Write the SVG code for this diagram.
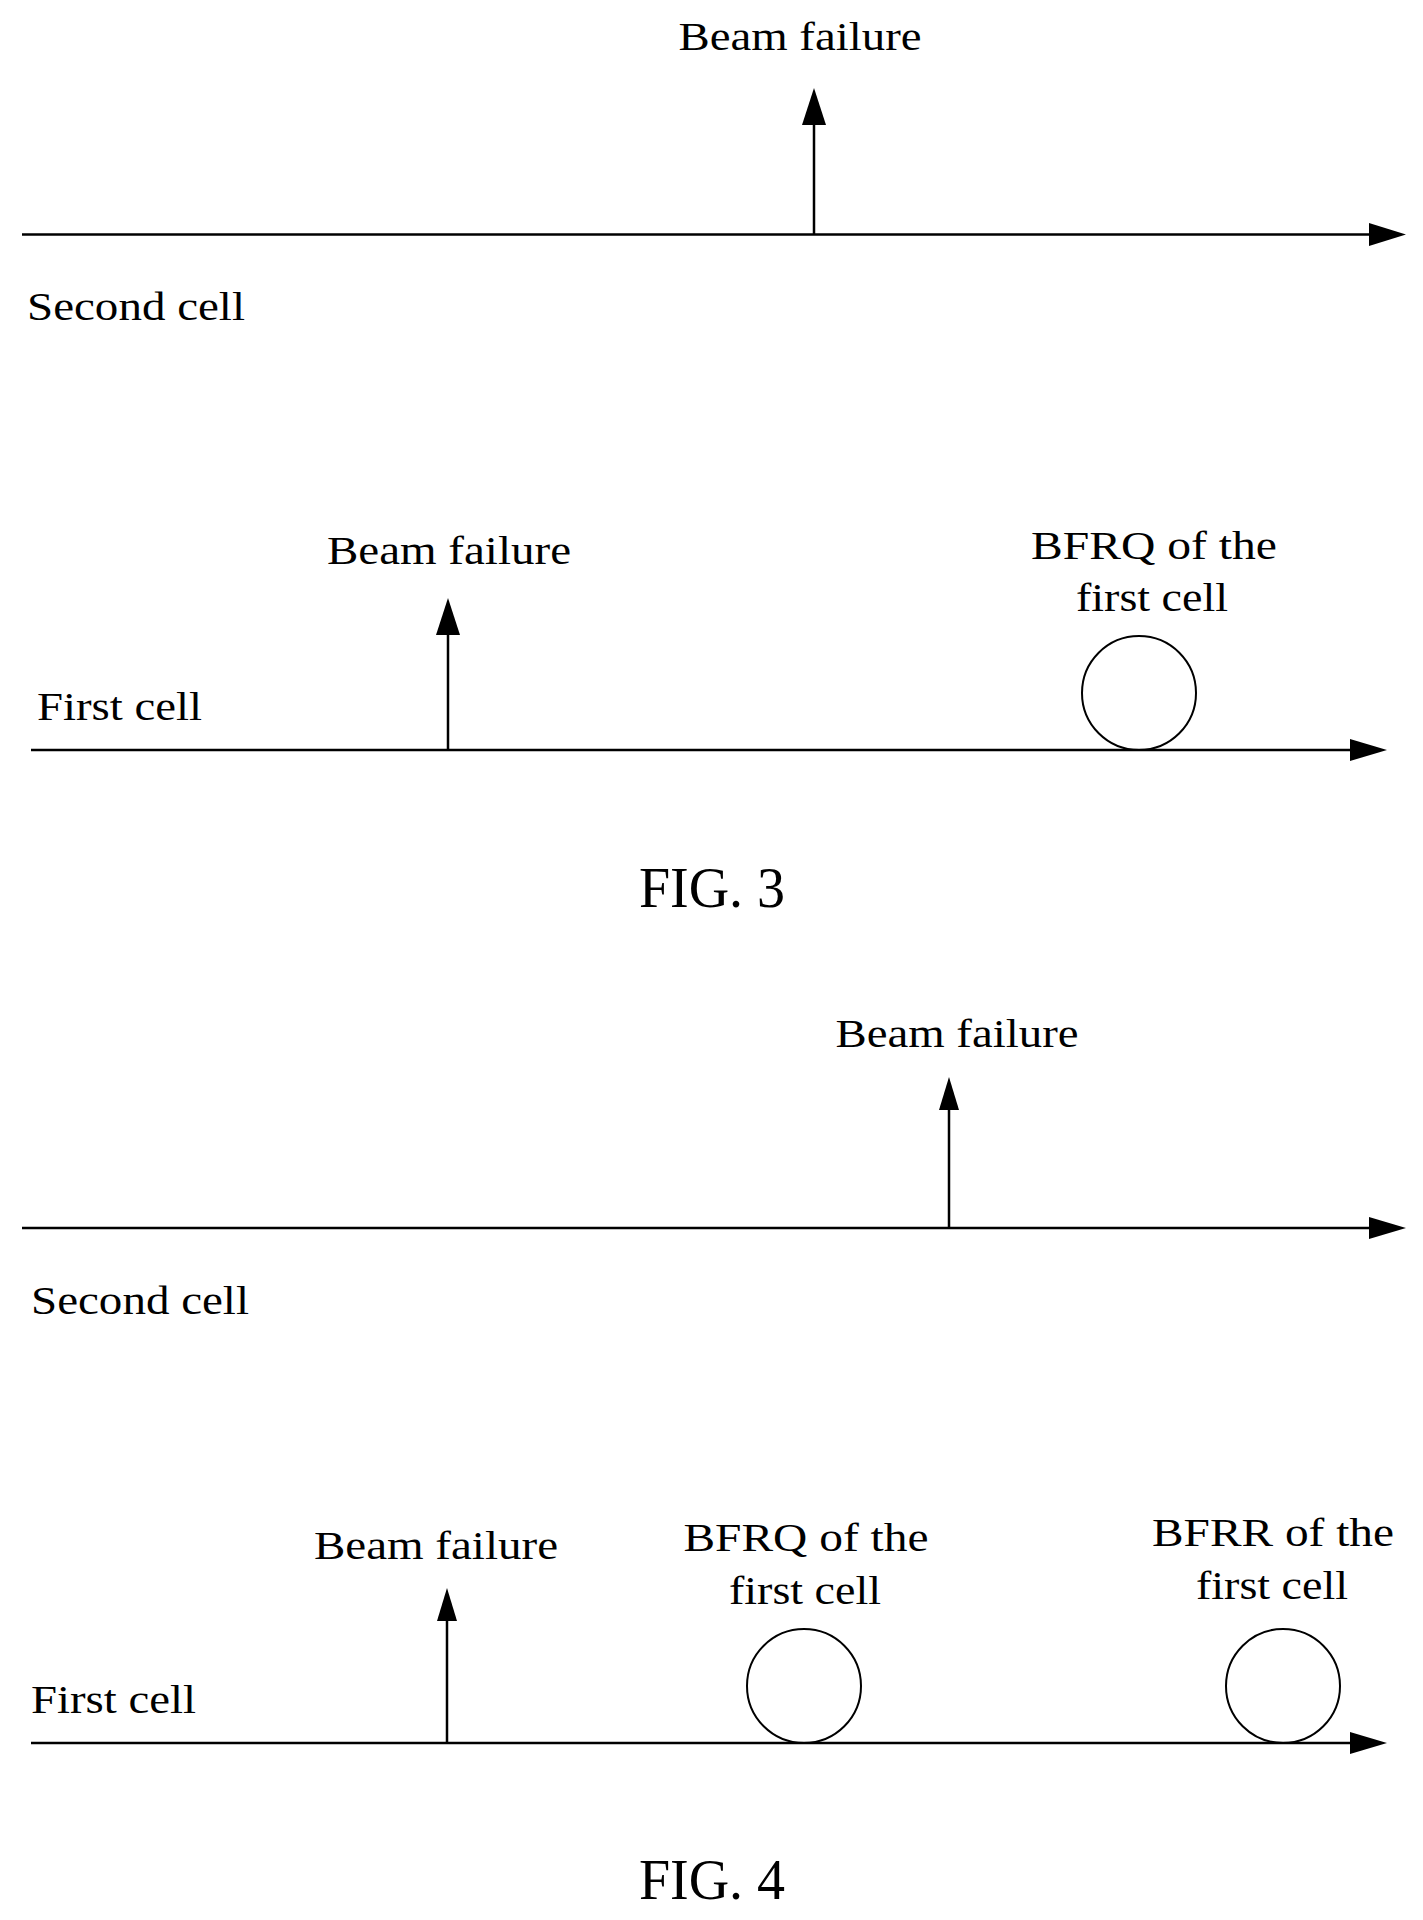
<svg xmlns="http://www.w3.org/2000/svg" width="1423" height="1920" viewBox="0 0 1423 1920">
<style>
text{font-family:"Liberation Serif","Times New Roman",serif;font-size:41px;fill:#000}
.c{text-anchor:middle}
.ln{stroke:#000;stroke-width:2.5;fill:none}
.ah{fill:#000}
.circ{stroke:#000;stroke-width:2;fill:none}
</style>
<rect width="1423" height="1920" fill="#fff"/>
<g id="connectors">
<line class="ln" x1="22" y1="234.5" x2="1372" y2="234.5"/>
<polygon class="ah" points="1406,234.5 1369,223 1369,246"/>
<line class="ln" x1="814" y1="234.5" x2="814" y2="120"/>
<polygon class="ah" points="814,88 802,125 826,125"/>
<line class="ln" x1="31" y1="750" x2="1352" y2="750"/>
<polygon class="ah" points="1387,750 1350,739 1350,761"/>
<line class="ln" x1="448" y1="750" x2="448" y2="630"/>
<polygon class="ah" points="448,598 436,635 460,635"/>
<line class="ln" x1="22" y1="1228" x2="1372" y2="1228"/>
<polygon class="ah" points="1406,1228 1369,1217 1369,1239"/>
<line class="ln" x1="949" y1="1228" x2="949" y2="1105"/>
<polygon class="ah" points="949,1077 939,1110 959,1110"/>
<line class="ln" x1="31" y1="1743" x2="1352" y2="1743"/>
<polygon class="ah" points="1387,1743 1350,1732 1350,1754"/>
<line class="ln" x1="447" y1="1743" x2="447" y2="1615"/>
<polygon class="ah" points="447,1588 437,1621 457,1621"/>
</g>
<g id="fig3-second-label"><text x="27" y="320" textLength="218" lengthAdjust="spacingAndGlyphs">Second cell</text></g>
<g id="fig3-second-bf"><text class="c" x="800" y="50" textLength="243" lengthAdjust="spacingAndGlyphs">Beam failure</text></g>
<g id="fig3-first-label"><text x="37" y="720" textLength="165" lengthAdjust="spacingAndGlyphs">First cell</text></g>
<g id="fig3-first-bf"><text class="c" x="449" y="564" textLength="244" lengthAdjust="spacingAndGlyphs">Beam failure</text></g>
<g id="fig3-bfrq">
<ellipse class="circ" cx="1139" cy="693" rx="57" ry="57"/>
<text class="c" x="1154" y="559" textLength="246" lengthAdjust="spacingAndGlyphs">BFRQ of the</text>
<text class="c" x="1152" y="611" textLength="152" lengthAdjust="spacingAndGlyphs">first cell</text>
</g>
<g id="fig3-caption"><text class="c" x="712" y="907" style="font-size:56px">FIG. 3</text></g>
<g id="fig4-second-label"><text x="31" y="1314" textLength="218" lengthAdjust="spacingAndGlyphs">Second cell</text></g>
<g id="fig4-second-bf"><text class="c" x="957" y="1047" textLength="243" lengthAdjust="spacingAndGlyphs">Beam failure</text></g>
<g id="fig4-first-label"><text x="31" y="1713" textLength="165" lengthAdjust="spacingAndGlyphs">First cell</text></g>
<g id="fig4-first-bf"><text class="c" x="436" y="1559" textLength="244" lengthAdjust="spacingAndGlyphs">Beam failure</text></g>
<g id="fig4-bfrq">
<ellipse class="circ" cx="804" cy="1686" rx="57" ry="57"/>
<text class="c" x="806" y="1551" textLength="245" lengthAdjust="spacingAndGlyphs">BFRQ of the</text>
<text class="c" x="805" y="1604" textLength="152" lengthAdjust="spacingAndGlyphs">first cell</text>
</g>
<g id="fig4-bfrr">
<ellipse class="circ" cx="1283" cy="1686" rx="57" ry="57"/>
<text class="c" x="1273" y="1546" textLength="242" lengthAdjust="spacingAndGlyphs">BFRR of the</text>
<text class="c" x="1272" y="1599" textLength="152" lengthAdjust="spacingAndGlyphs">first cell</text>
</g>
<g id="fig4-caption"><text class="c" x="712" y="1899" style="font-size:56px">FIG. 4</text></g>
</svg>
